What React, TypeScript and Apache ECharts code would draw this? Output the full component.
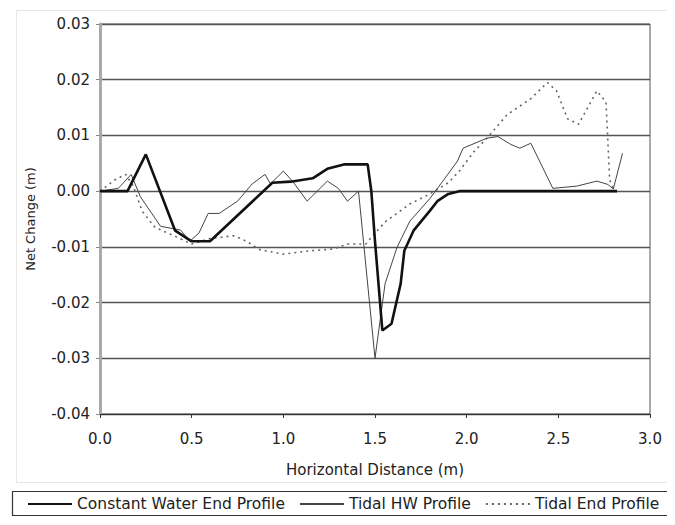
import React, { useEffect, useRef } from "react";
import * as echarts from "echarts";

const seriesNames = ["Constant Water End Profile", "Tidal HW Profile", "Tidal End Profile"];

const constantWater: [number, number][] = [
  [0, 0], [0.15, 0], [0.25, 0.0066], [0.41, -0.0071], [0.5, -0.009], [0.6, -0.009],
  [0.94, 0.0015], [1.04, 0.0017], [1.16, 0.0023], [1.24, 0.004], [1.33, 0.0048],
  [1.46, 0.0048], [1.48, 0], [1.5, -0.009], [1.54, -0.025], [1.59, -0.0238],
  [1.64, -0.0166], [1.66, -0.0107], [1.71, -0.0071], [1.8, -0.0035], [1.84, -0.0018],
  [1.9, -0.0005], [1.96, 0], [2.82, 0],
];

const tidalHW: [number, number][] = [
  [0, 0], [0.1, 0.0005], [0.17, 0.003], [0.22, -0.001], [0.33, -0.0063], [0.41, -0.0068],
  [0.44, -0.007], [0.49, -0.009], [0.54, -0.0075], [0.59, -0.004], [0.65, -0.004],
  [0.75, -0.0018], [0.83, 0.0013], [0.9, 0.003], [0.93, 0.0013], [1.0, 0.0036],
  [1.05, 0.0018], [1.13, -0.0018], [1.24, 0.0018], [1.3, 0.0005], [1.35, -0.0018],
  [1.41, 0], [1.5, -0.03], [1.555, -0.0166], [1.62, -0.0101], [1.69, -0.0054],
  [1.8, -0.0013], [1.87, 0.0018], [1.95, 0.0054], [1.98, 0.0077], [2.11, 0.0095],
  [2.17, 0.0098], [2.24, 0.0084], [2.29, 0.0077], [2.35, 0.0086], [2.47, 0.0005],
  [2.6, 0.0009], [2.71, 0.0018], [2.77, 0.0012], [2.8, 0.0004], [2.85, 0.0068],
];

const tidalEnd: [number, number][] = [
  [0, 0], [0.08, 0.002], [0.14, 0.003], [0.18, 0.001], [0.23, -0.0036], [0.3, -0.0065],
  [0.43, -0.0084], [0.5, -0.0095], [0.6, -0.0085], [0.73, -0.008], [0.8, -0.009],
  [0.87, -0.0105], [1.0, -0.0113], [1.15, -0.0107], [1.27, -0.0104], [1.35, -0.0095],
  [1.45, -0.0095], [1.5, -0.0075], [1.56, -0.0054], [1.69, -0.0023], [1.8, -0.0005],
  [1.9, 0.0015], [1.96, 0.0036], [2.04, 0.0071], [2.11, 0.0095], [2.22, 0.0137],
  [2.35, 0.0166], [2.44, 0.0195], [2.49, 0.018], [2.55, 0.013], [2.61, 0.012],
  [2.71, 0.018], [2.76, 0.016], [2.78, 0.002], [2.8, 0.0005],
];

const FONT = "DejaVu Sans, Verdana, sans-serif";

export default function App() {
  const ref = useRef<HTMLDivElement>(null);
  useEffect(() => {
    if (!ref.current) return;
    const chart = echarts.init(ref.current, undefined, { renderer: "svg" });
    chart.setOption({
      animation: false,
      backgroundColor: "#fff",
      textStyle: { fontFamily: FONT },
      grid: {
        left: 100, right: 25, top: 24, bottom: 111, containLabel: false,
        show: true, borderColor: "#555", borderWidth: 1, backgroundColor: "transparent",
      },
      legend: {
        left: 22, top: 491, itemWidth: 44, itemHeight: 10, itemGap: 14,
        itemStyle: { opacity: 0 },
        textStyle: { fontSize: 15.5, color: "#222", fontFamily: FONT },
        data: seriesNames,
      },
      graphic: [
        {
          type: "rect", left: 10, top: 489, shape: { width: 658, height: 24 },
          style: { fill: "none", stroke: "#333", lineWidth: 1.2 }, silent: true,
        },
        {
          type: "rect", left: 14, top: 8, shape: { width: 652, height: 472 },
          style: { fill: "none", stroke: "#e6e6e6", lineWidth: 1 }, silent: true,
        },
      ],
      xAxis: {
        type: "value", min: 0, max: 3, interval: 0.5,
        name: "Horizontal Distance (m)", nameLocation: "middle", nameGap: 48,
        nameTextStyle: { fontSize: 15, color: "#222", fontFamily: FONT },
        axisLine: { show: true, onZero: false, lineStyle: { color: "#333", width: 1.2 } },
        axisTick: { show: true, length: 4, inside: false, lineStyle: { color: "#333" } },
        axisLabel: { fontSize: 15, color: "#222", margin: 17, formatter: (v: number) => v.toFixed(1) },
        splitLine: { show: false },
      },
      yAxis: {
        type: "value", min: -0.04, max: 0.03, interval: 0.01,
        name: "Net Change (m)", nameLocation: "middle", nameGap: 63, nameRotate: 90,
        nameTextStyle: { fontSize: 13, color: "#222", fontFamily: FONT },
        axisLine: { show: true, onZero: false, lineStyle: { color: "#aaa", width: 3 } },
        axisTick: { show: true, length: 4, lineStyle: { color: "#888" } },
        axisLabel: { fontSize: 15, color: "#222", margin: 10, formatter: (v: number) => v.toFixed(2) },
        splitLine: { show: true, lineStyle: { color: "#555", width: 1.4 } },
      },
      series: [
        {
          name: seriesNames[0], type: "line", data: constantWater, symbol: "none",
          lineStyle: { color: "#111", width: 2.6 }, itemStyle: { color: "#111" }, z: 5,
        },
        {
          name: seriesNames[1], type: "line", data: tidalHW, symbol: "none",
          lineStyle: { color: "#444", width: 1 }, itemStyle: { color: "#444" }, z: 4,
        },
        {
          name: seriesNames[2], type: "line", data: tidalEnd, symbol: "none",
          lineStyle: { color: "#666", width: 1.6, type: [2, 4] }, itemStyle: { color: "#666" }, z: 3,
        },
      ],
    });
    return () => chart.dispose();
  }, []);
  return <div ref={ref} style={{ width: 675, height: 525, marginLeft: -8, marginTop: -8 }} />;
}
